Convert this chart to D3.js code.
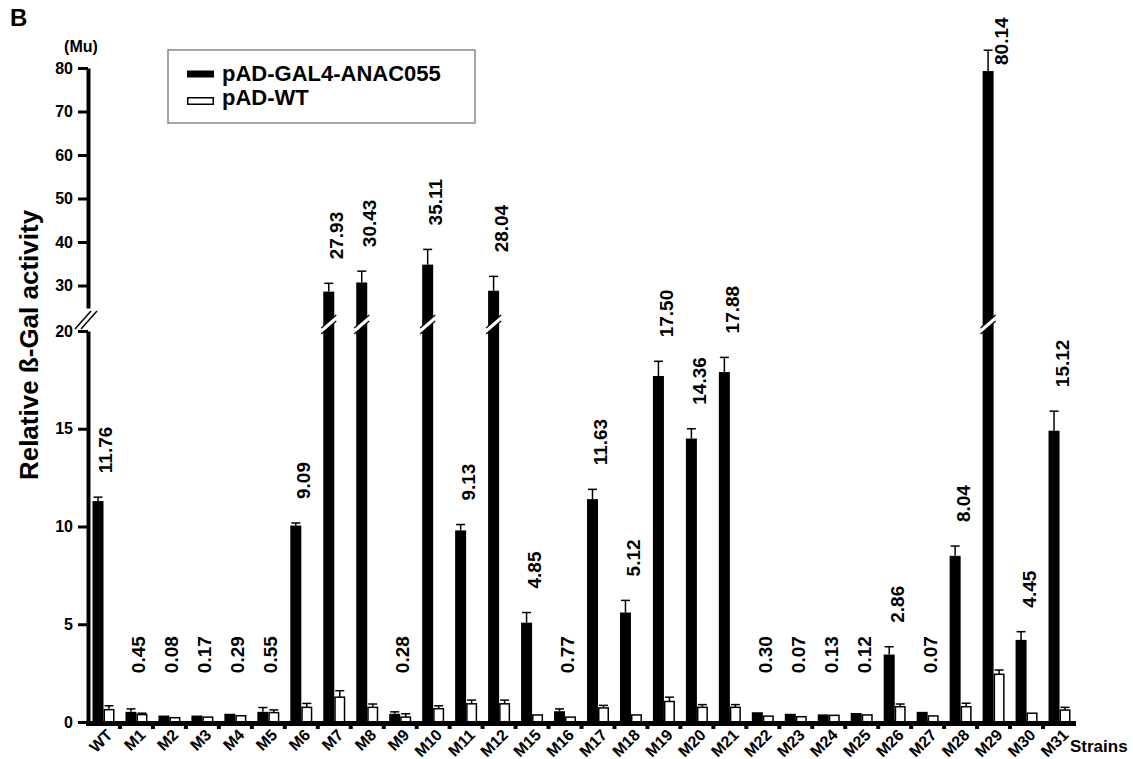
<!DOCTYPE html>
<html><head><meta charset="utf-8">
<script src="https://cdnjs.cloudflare.com/ajax/libs/d3/7.8.5/d3.min.js"></script>
<style>
html,body{margin:0;padding:0;background:#fff;}
svg{display:block;font-family:"Liberation Sans",Arial,Helvetica,sans-serif;font-weight:bold;}
</style></head>
<body>
<svg id="c" width="1133" height="759"></svg>
<script>
// ---- data ----
const categories = ["WT","M1","M2","M3","M4","M5","M6","M7","M8","M9","M10","M11","M12","M15","M16","M17","M18","M19","M20","M21","M22","M23","M24","M25","M26","M27","M28","M29","M30","M31"];
const anacValues = [11.3,0.52,0.33,0.33,0.42,0.52,10.05,28.6,30.7,0.42,34.8,9.8,28.8,5.08,0.55,11.4,5.6,17.7,14.5,17.9,0.5,0.42,0.39,0.46,3.45,0.52,8.5,79.3,4.2,14.9];
const anacErrors = [0.2,0.15,0,0,0,0.22,0.13,1.9,2.6,0.1,3.5,0.3,3.3,0.52,0.12,0.5,0.62,0.75,0.5,0.75,0,0,0,0,0.4,0,0.5,4.8,0.42,1.0];
const wtValues = [0.63,0.38,0.22,0.25,0.32,0.48,0.75,1.27,0.75,0.25,0.68,0.93,0.93,0.36,0.25,0.72,0.36,1.05,0.75,0.75,0.3,0.27,0.34,0.36,0.78,0.31,0.78,2.44,0.45,0.61];
const wtErrors = [0.2,0.07,0,0,0,0.14,0.2,0.33,0.17,0.17,0.15,0.19,0.19,0,0,0.13,0,0.22,0.14,0.14,0,0,0,0,0.14,0,0.18,0.22,0,0.14];
const valueLabels = ["11.76","0.45","0.08","0.17","0.29","0.55","9.09","27.93","30.43","0.28","35.11","9.13","28.04","4.85","0.77","11.63","5.12","17.50","14.36","17.88","0.30","0.07","0.13","0.12","2.86","0.07","8.04","80.14","4.45","15.12"];
const lowTicks = [0,5,10,15,20];
const highTicks = [30,40,50,60,70,80];
const seriesNames = ["pAD-GAL4-ANAC055","pAD-WT"];

// ---- layout ----
const svg = d3.select("#c");
const x = d3.scaleBand().domain(categories).range([87,1076]);
const bw = x.bandwidth();
const yLow = d3.scaleLinear().domain([0,20]).range([722,331]);
const yHigh = d3.scaleLinear().domain([20,80]).range([329,68]);
const y = v => v <= 20 ? yLow(v) : yHigh(v);
const base = yLow(0);

const g = svg.append("g");

categories.forEach((c,i)=>{
  const x0 = x(c);
  const bx = x0 + 5.5, wx = x0 + 16.5, barW = 11;
  const v = anacValues[i];
  g.append("rect").attr("x",bx).attr("y",y(v)).attr("width",barW).attr("height",base - y(v)).attr("fill","#000");
  if (anacErrors[i] > 0) {
    const cx = bx + barW/2, ye = y(v + anacErrors[i]);
    g.append("line").attr("x1",cx).attr("x2",cx).attr("y1",y(v)).attr("y2",ye).attr("stroke","#000").attr("stroke-width",1.5);
    g.append("line").attr("x1",cx-4.5).attr("x2",cx+4.5).attr("y1",ye).attr("y2",ye).attr("stroke","#000").attr("stroke-width",1.5);
  }
  if (v > 20) {
    const yb = yLow(20);
    const xl = bx - 2, xr = bx + barW + 2;
    g.append("polygon").attr("points",[[xl,yb+3],[xr,yb-10],[xr,yb-16],[xl,yb-3]].map(p=>p.join(",")).join(" "))
      .attr("fill","#fff");
    g.append("line").attr("x1",xl).attr("y1",yb+3).attr("x2",xr).attr("y2",yb-10).attr("stroke","#000").attr("stroke-width",1.2);
    g.append("line").attr("x1",xl).attr("y1",yb-3).attr("x2",xr).attr("y2",yb-16).attr("stroke","#000").attr("stroke-width",1.2);
  }
  const w = wtValues[i];
  g.append("rect").attr("x",wx+0.75).attr("y",y(w)).attr("width",barW-1.5).attr("height",base - y(w))
    .attr("fill","#fff").attr("stroke","#000").attr("stroke-width",1.5);
  if (wtErrors[i] > 0) {
    const cx = wx + barW/2, ye = y(w + wtErrors[i]);
    g.append("line").attr("x1",cx).attr("x2",cx).attr("y1",y(w)).attr("y2",ye).attr("stroke","#000").attr("stroke-width",1.5);
    g.append("line").attr("x1",cx-4.5).attr("x2",cx+4.5).attr("y1",ye).attr("y2",ye).attr("stroke","#000").attr("stroke-width",1.5);
  }
  const cap = y(v + anacErrors[i]);
  let lx, ly;
  if (v > 60) { lx = x0 + bw - 2; ly = 65; }
  else { lx = x0 + bw/2 + 9; ly = Math.min(cap - 24, yLow(2.5)); }
  svg.append("text").attr("transform",`translate(${lx},${ly}) rotate(-90)`)
    .attr("font-size",19).attr("text-anchor","start").text(valueLabels[i]);
});

// x axis (band scale axis; labels rotated)
const xAxis = d3.axisBottom(x).tickSize(0).tickSizeOuter(0);
const xg = svg.append("g").attr("transform",`translate(0,${base})`).call(xAxis);
xg.select(".domain").remove();
xg.selectAll(".tick text").remove();
xg.selectAll(".tick").append("text")
  .attr("transform","translate(10,14) rotate(-45)")
  .attr("text-anchor","end")
  .attr("font-size",16).attr("font-weight","bold").attr("font-family","Liberation Sans, Arial, sans-serif")
  .attr("fill","#000")
  .text(d=>d);
svg.append("rect").attr("x",86).attr("y",base-1).attr("width",1076-86).attr("height",5).attr("fill","#000");
categories.forEach(c=>{
  const xt = x(c) + bw;
  if (c !== categories[categories.length-1])
    svg.append("rect").attr("x",xt-2).attr("y",base+3).attr("width",4).attr("height",4).attr("fill","#000");
});
svg.append("text").attr("x",1070).attr("y",752).attr("font-size",17).text("Strains");

// y axes
function styleAxis(sel){
  sel.select(".domain").attr("stroke-width",4).attr("stroke","#000");
  sel.selectAll(".tick line").attr("stroke-width",3).attr("stroke","#000");
  sel.selectAll(".tick text").attr("font-size",16).attr("font-weight","bold")
    .attr("font-family","Liberation Sans, Arial, sans-serif").attr("fill","#000").attr("x",-15);
}
const lowAxis = d3.axisLeft(yLow).tickValues(lowTicks).tickSize(10).tickSizeOuter(0);
svg.append("g").attr("transform","translate(88,0)").call(lowAxis).call(styleAxis);
const yHighAxisScale = yHigh.copy().domain([24.8,80]).range([yHigh(24.8),yHigh(80)]);
const highAxis = d3.axisLeft(yHighAxisScale).tickValues(highTicks).tickSize(10).tickSizeOuter(0);
svg.append("g").attr("transform","translate(88,0)").call(highAxis).call(styleAxis);
svg.append("line").attr("x1",75).attr("y1",329).attr("x2",91).attr("y2",311).attr("stroke","#000").attr("stroke-width",1.5);
svg.append("line").attr("x1",81).attr("y1",329).attr("x2",97).attr("y2",311).attr("stroke","#000").attr("stroke-width",1.5);

// titles
svg.append("text").attr("x",10).attr("y",26).attr("font-size",24).text("B");
svg.append("text").attr("x",81).attr("y",52).attr("font-size",16).attr("text-anchor","middle").text("(Mu)");
svg.append("text").attr("transform","translate(38,345) rotate(-90)").attr("font-size",26).attr("text-anchor","middle").text("Relative ß-Gal activity");

// legend
const lg = svg.append("g");
lg.append("rect").attr("x",168).attr("y",50).attr("width",307).attr("height",73).attr("fill","#fff").attr("stroke","#888").attr("stroke-width",1.5);
lg.append("rect").attr("x",187).attr("y",70.5).attr("width",27).attr("height",7).attr("fill","#000");
lg.append("rect").attr("x",187.75).attr("y",97.75).attr("width",25.5).attr("height",6.5).attr("fill","#fff").attr("stroke","#000").attr("stroke-width",1.5);
lg.append("text").attr("x",222).attr("y",81).attr("font-size",22).text(seriesNames[0]);
lg.append("text").attr("x",222).attr("y",105).attr("font-size",22).text(seriesNames[1]);
</script>
</body></html>
